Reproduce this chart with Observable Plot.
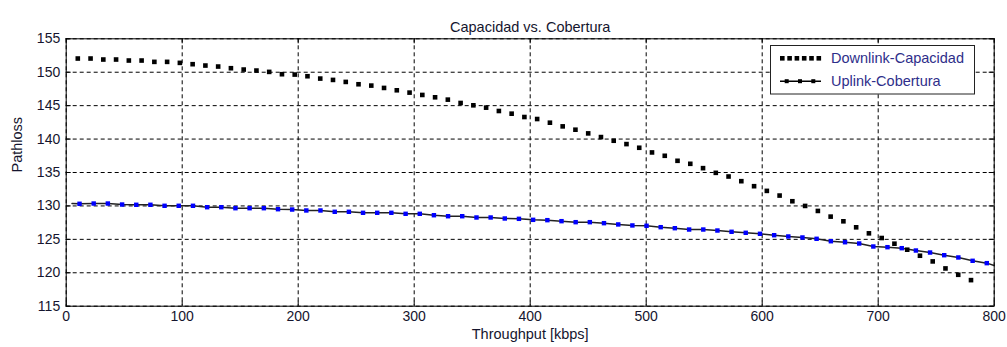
<!DOCTYPE html>
<html>
<head>
<meta charset="utf-8">
<script src="https://cdn.jsdelivr.net/npm/d3@7"></script>
<script src="https://cdn.jsdelivr.net/npm/@observablehq/plot@0.6"></script>
<style>
  html, body { margin: 0; padding: 0; background: #fff; }
</style>
</head>
<body>
<div id="chart"></div>
<script>
const title = "Capacidad vs. Cobertura";
const xLabel = "Throughput [kbps]";
const yLabel = "Pathloss";
const seriesNames = ["Downlink-Capacidad", "Uplink-Cobertura"];
const xTicks = [0, 100, 200, 300, 400, 500, 600, 700, 800];
const yTicks = [115, 120, 125, 130, 135, 140, 145, 150, 155];

const downlinkX = [10, 21, 32, 43, 54, 65, 76, 87, 98, 109, 120, 131, 142, 153, 164, 175, 186, 197, 208, 219,
  230, 241, 252, 263, 274, 285, 296, 307, 318, 329, 340, 351, 362, 373, 384, 395, 406, 417, 428, 439,
  450, 461, 472, 483, 494, 505, 516, 527, 538, 549, 560, 571, 582, 593, 604, 615, 626, 637, 648, 659,
  670, 681, 692, 703, 714, 725, 736, 747, 758, 769, 780];
const downlinkY = [152.05, 152.05, 151.9, 151.9, 151.75, 151.75, 151.55, 151.55, 151.4, 151.2,
  151.0, 150.85, 150.6, 150.4, 150.25, 150.05, 149.7, 149.65, 149.4, 149.05,
  148.85, 148.55, 148.2, 148.0, 147.65, 147.3, 146.95, 146.6, 146.25, 145.9,
  145.4, 145.05, 144.7, 144.2, 143.8, 143.3, 143.0, 142.45, 141.9, 141.4,
  140.85, 140.3, 139.75, 139.25, 138.7, 138.0, 137.5, 136.75, 136.3, 135.65,
  134.95, 134.4, 133.7, 132.95, 132.25, 131.55, 130.7, 130.0, 129.25, 128.4,
  127.7, 126.8, 125.9, 125.2, 124.35, 123.45, 122.55, 121.7, 120.65, 119.7, 118.9];

const uplinkX = [11.5, 23.7, 35.9, 48.2, 60.4, 72.6, 84.8, 97.0, 109.3, 121.5,
  133.7, 145.9, 158.1, 170.4, 182.6, 194.8, 207.0, 219.2, 231.5, 243.7,
  255.9, 268.1, 280.3, 292.6, 304.8, 317.0, 329.2, 341.4, 353.7, 365.9,
  378.1, 390.3, 402.5, 414.8, 427.0, 439.2, 451.4, 463.6, 475.9, 488.1,
  500.3, 512.5, 524.7, 537.0, 549.2, 561.4, 573.6, 585.8, 598.1, 610.3,
  622.5, 634.7, 646.9, 659.2, 671.4, 683.6, 695.8, 708.0, 720.3, 732.5,
  744.7, 756.9, 769.1, 781.4, 793.6];
const uplinkY = [130.32, 130.36, 130.36, 130.21, 130.17, 130.17, 130.02, 130.02, 130.02, 129.81,
  129.81, 129.66, 129.66, 129.66, 129.51, 129.46, 129.32, 129.32, 129.12, 129.12,
  128.97, 128.97, 128.97, 128.82, 128.82, 128.61, 128.46, 128.46, 128.27, 128.27,
  128.12, 128.07, 127.92, 127.87, 127.72, 127.57, 127.57, 127.42, 127.23, 127.08,
  127.03, 126.82, 126.67, 126.47, 126.47, 126.32, 126.13, 125.98, 125.83, 125.62,
  125.43, 125.28, 125.08, 124.72, 124.57, 124.38, 123.93, 123.83, 123.68, 123.33,
  123.03, 122.63, 122.29, 121.79, 121.44];
const uplinkLineStart = [5, 130.35];
const uplinkLineEnd = [800, 121.1];

const downlink = downlinkX.map((x, i) => ({x, y: downlinkY[i]}));
const uplink = uplinkX.map((x, i) => ({x, y: uplinkY[i]}));
const uplinkLine = [{x: uplinkLineStart[0], y: uplinkLineStart[1]}, ...uplink,
  {x: uplinkLineEnd[0], y: uplinkLineEnd[1]}];

const W = 1007, H = 347;
const mL = 65.7, mR = 13.3, mT = 38.3, mB = 41.3;
const fW = W - mL - mR, fH = H - mT - mB;
const tk = 5;
const font = "'Liberation Sans', Arial, sans-serif";
const textColor = "#15152e";

const svg = Plot.plot({
  width: W, height: H,
  marginLeft: mL, marginRight: mR, marginTop: mT, marginBottom: mB,
  style: {fontFamily: font, fontSize: "14px", color: textColor, background: "#fff"},
  x: {domain: [0, 800]},
  y: {domain: [115, 155]},
  marks: [
    Plot.gridX(xTicks, {stroke: "#000", strokeOpacity: 1, strokeDasharray: "4,3"}),
    Plot.gridY(yTicks, {stroke: "#000", strokeOpacity: 1, strokeDasharray: "4,3"}),
    Plot.tickX(xTicks, {x: d => d, insetTop: fH - tk, stroke: "#000"}),
    Plot.tickX(xTicks, {x: d => d, insetBottom: fH - tk, stroke: "#000"}),
    Plot.tickY(yTicks, {y: d => d, insetRight: fW - tk, stroke: "#000"}),
    Plot.tickY(yTicks, {y: d => d, insetLeft: fW - tk, stroke: "#000"}),
    Plot.axisX(xTicks, {tickSize: 0, tickPadding: 5, label: null, fontSize: 14}),
    Plot.axisY(yTicks, {tickSize: 0, tickPadding: 6, label: null, fontSize: 14}),
    Plot.line(uplinkLine, {x: "x", y: "y", stroke: "#222", strokeWidth: 1.5}),
    Plot.dot(uplink, {x: "x", y: "y", symbol: "square", r: 2.5, fill: "#0000ff", stroke: null}),
    Plot.dot(downlink, {x: "x", y: "y", symbol: "square", r: 2.6, fill: "#000", stroke: null}),
    Plot.frame({stroke: "#000", strokeWidth: 1}),
    Plot.text([title], {frameAnchor: "top", dy: -17, fontSize: 14.5, fill: textColor}),
    Plot.text([xLabel], {frameAnchor: "bottom", dy: 32.6, fontSize: 14.5, fill: textColor}),
    Plot.text([yLabel], {frameAnchor: "left", dx: -48.7, rotate: -90, fontSize: 14.5, fill: textColor})
  ]
});

// legend box
const g = d3.select(svg).append("g");
g.append("rect").attr("x", 770.5).attr("y", 45.5).attr("width", 204).attr("height", 48.5)
  .attr("fill", "#fff").attr("stroke", "#222").attr("stroke-width", 1);
const row1 = 58.3, row2 = 81.2;
for (let k = 0; k < 6; k++) {
  g.append("rect").attr("x", 780 + k * 7.3).attr("y", row1 - 2.3).attr("width", 4.6).attr("height", 4.6).attr("fill", "#000");
}
g.append("line").attr("x1", 780).attr("x2", 821).attr("y1", row2).attr("y2", row2)
  .attr("stroke", "#000").attr("stroke-width", 1.5);
[786.7, 800, 813.3].forEach(cx => {
  g.append("rect").attr("x", cx - 2).attr("y", row2 - 2).attr("width", 4).attr("height", 4).attr("fill", "#000");
});
[[row1, seriesNames[0]], [row2, seriesNames[1]]].forEach(([yy, t]) => {
  g.append("text").attr("x", 831).attr("y", yy).attr("dy", "0.35em")
    .attr("text-anchor", "start")
    .attr("font-family", font).attr("font-size", 14.5).attr("fill", "#2e2e8a").text(t);
});

document.getElementById("chart").appendChild(svg);
</script>
</body>
</html>
